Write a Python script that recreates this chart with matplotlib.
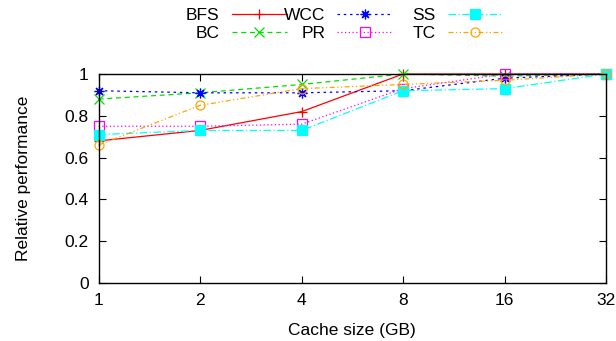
import numpy as np
import matplotlib.pyplot as plt

plt.rcParams['font.family'] = ['Liberation Sans', 'DejaVu Sans']
plt.rcParams['font.size'] = 12.5

# cache sizes in GB
cache_gb = [1, 2, 4, 8, 16, 32]

# relative performance per algorithm
bfs = [0.68, 0.73, 0.82, 1.00, 1.00, 1.00]
bc = [0.88, 0.91, 0.95, 1.00, 0.99, 1.00]
wcc = [0.92, 0.91, 0.91, 0.92, 0.98, 1.00]
pr = [0.75, 0.75, 0.76, 0.93, 1.00, 1.00]
ss = [0.71, 0.73, 0.73, 0.92, 0.93, 1.00]
tc = [0.66, 0.85, 0.93, 0.95, 0.97, 1.00]

y_ticks = [0, 0.2, 0.4, 0.6, 0.8, 1]
y_tick_labels = ['0', '0.2', '0.4', '0.6', '0.8', '1']

fig = plt.figure(figsize=(6.16, 3.41), dpi=100)
ax = fig.add_axes([0.16, 0.17, 0.824, 0.613])

# name, values, color, linestyle, marker, filled
series = [
    ('BFS', bfs, 'red', '-', '+', False),
    ('BC', bc, '#00e000', (0, (4, 3)), 'x', False),
    ('WCC', wcc, 'blue', (0, (2, 3)), (8, 2, 0), False),
    ('PR', pr, 'magenta', (0, (1, 2)), 's', False),
    ('SS', ss, 'cyan', (0, (6, 2, 1, 2)), 's', True),
    ('TC', tc, 'orange', (0, (4, 2, 1, 2, 1, 2)), 'o', False),
]

handles = []
for name, vals, col, ls, mk, filled in series:
    h, = ax.plot(cache_gb, vals, color=col, linestyle=ls, linewidth=0.9,
                 marker=mk, markersize=7 if mk != 'o' else 6.5,
                 markerfacecolor=col if filled else 'none',
                 markeredgecolor=col, markeredgewidth=0.9,
                 clip_on=False, label=name)
    handles.append(h)

ax.set_xscale('log', base=2)
ax.set_xlim(1, 32)
ax.set_xticks(cache_gb)
ax.set_xticklabels([str(c) for c in cache_gb])
ax.xaxis.set_minor_locator(plt.NullLocator())
ax.set_ylim(0, 1)
ax.set_yticks(y_ticks)
ax.set_yticklabels(y_tick_labels)
ax.tick_params(direction='in', length=5, width=0.8, top=True, right=True, pad=7)
for sp in ax.spines.values():
    sp.set_linewidth(1.0)

ax.set_xlabel('Cache size (GB)', labelpad=11)
ax.set_ylabel('Relative performance', labelpad=24)

# legend: three fixed-width columns, key after the label
col_right = [0.466, 0.638, 0.817]
for c, xr in enumerate(col_right):
    pair = [handles[2 * c], handles[2 * c + 1]]
    fig.legend(handles=pair, labels=[h.get_label() for h in pair],
               loc='upper right', bbox_to_anchor=(xr, 0.978),
               frameon=False, markerfirst=False, handlelength=3.2,
               handletextpad=0.7, labelspacing=0.2, borderpad=0,
               borderaxespad=0, fontsize=12.5)

fig.savefig('out.png', dpi=100)
